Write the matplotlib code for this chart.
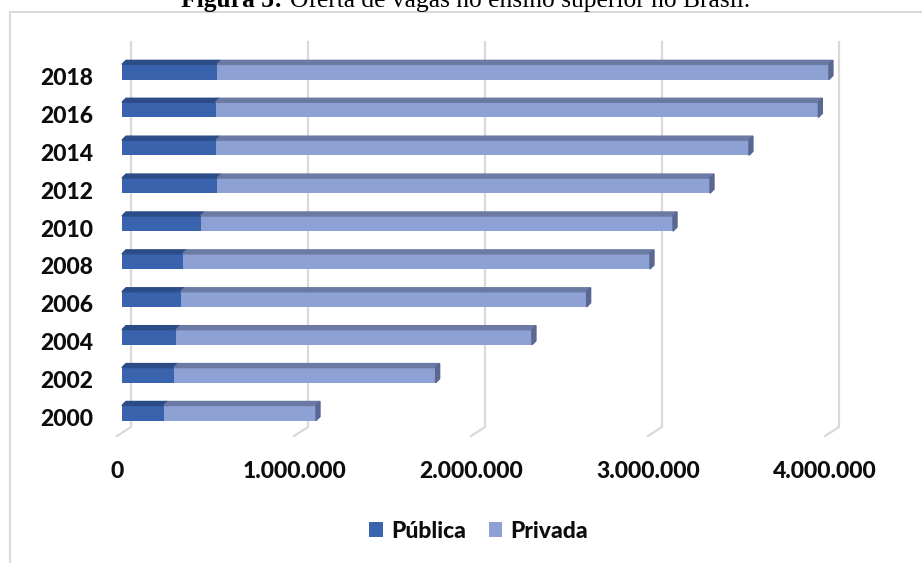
import matplotlib
matplotlib.use("Agg")
import matplotlib.pyplot as plt
from matplotlib.lines import Line2D
from matplotlib.patches import Polygon

# vagas oferecidas por ano (rede pública / rede privada)
years = ["2000", "2002", "2004", "2006", "2008", "2010", "2012", "2014", "2016", "2018"]
publica = [237000, 294000, 306000, 331000, 343000, 444000, 538000, 532000, 529000, 537000]
privada = [859000, 1478000, 2010000, 2294000, 2640000, 2669000, 2784000, 3010000, 3405000, 3457000]
xticks = [0, 1000000, 2000000, 3000000, 4000000]
xticklabels = ["0", "1.000.000", "2.000.000", "3.000.000", "4.000.000"]

C_PUB = "#3A63AD"
C_PUB_TOP = "#2C4C88"
C_PRI = "#8EA1D5"
C_PRI_TOP = "#6B7AA3"
C_PRI_SIDE = "#5A6891"
C_GRID = "#D9D9D9"
C_TEXT = "#0d0d0d"
FONT = "Lato"
WEIGHT = 900

W, H = 922, 563
fig = plt.figure(figsize=(W / 100, H / 100), dpi=100)

# plot area in pixels (front plane of the bars)
left_px, right_px = 122, 830
top_px, bot_px = 53, 432
ax = fig.add_axes([left_px / W, 1 - bot_px / H, (right_px - left_px) / W, (bot_px - top_px) / H])
ax.set_xlim(0, 4000000)
ax.set_ylim(-0.5, 9.5)
ax.axis("off")

xpx = 4000000 / (right_px - left_px)   # data units per pixel
ypx = 10 / (bot_px - top_px)


def ypos(pix):
    return 9.5 - (pix - top_px) * ypx


rows = list(range(len(years)))
bh = 0.4
dx, dy = 4 * xpx, 4 * ypx

# back-wall gridlines with the floor edge bending toward the front
for v in xticks:
    ax.plot([v + 9 * xpx, v + 9 * xpx, v - 5 * xpx],
            [ypos(42), ypos(427), ypos(436)],
            color=C_GRID, lw=1.6, zorder=1, clip_on=False, solid_joinstyle="miter")

b1 = ax.barh(rows, publica, height=bh, color=C_PUB, zorder=3, label="Pública")
b2 = ax.barh(rows, privada, left=publica, height=bh, color=C_PRI, zorder=3, label="Privada")

for r, p, q in zip(rows, publica, privada):
    top = r + bh / 2
    bot = r - bh / 2
    end = p + q
    ax.add_patch(Polygon([(0, top), (p, top), (p + dx, top + dy), (dx, top + dy)],
                         closed=True, color=C_PUB_TOP, zorder=3, clip_on=False))
    ax.add_patch(Polygon([(p, top), (end, top), (end + dx, top + dy), (p + dx, top + dy)],
                         closed=True, color=C_PRI_TOP, zorder=3, clip_on=False))
    ax.add_patch(Polygon([(end, bot), (end, top), (end + dx, top + dy), (end + dx, bot + dy)],
                         closed=True, color=C_PRI_SIDE, zorder=3, clip_on=False))

# category labels
for r, yr in zip(rows, years):
    ax.text((93 - left_px) * xpx, r - 13 * ypx, yr, ha="right", va="baseline",
            fontsize=16.5, fontweight=WEIGHT, family=FONT, color=C_TEXT)

# value axis labels
for v, lab in zip(xticks, xticklabels):
    ax.text(v - 5 * xpx, ypos(478), lab, ha="center", va="baseline",
            fontsize=16.5, fontweight=WEIGHT, family=FONT, color=C_TEXT)

fig.legend(handles=[b1, b2], labels=["Pública", "Privada"], loc="center",
           bbox_to_anchor=(478.5 / W, 1 - 531 / H), ncol=2, frameon=False,
           prop={"family": FONT, "weight": WEIGHT, "size": 16.5},
           handlelength=0.6, handleheight=0.6, handletextpad=0.35, columnspacing=1.0,
           labelcolor=C_TEXT)

# chart frame (left and top edges visible)
fig.add_artist(Line2D([9.5 / W, 9.5 / W, 1.0], [0.0, 1 - 11.5 / H, 1 - 11.5 / H],
                      transform=fig.transFigure, color=C_GRID, lw=1.5))

# caption above the frame
fig.text(282 / W, 1 - 7 / H, "Figura 3:", ha="right", va="baseline",
         fontsize=18.4, fontweight="bold", family="Liberation Serif")
fig.text(290 / W, 1 - 7 / H, "Oferta de vagas no ensino superior no Brasil.", ha="left",
         va="baseline", fontsize=18.4, family="Liberation Serif")

fig.savefig("out.png", dpi=100, facecolor="white")
